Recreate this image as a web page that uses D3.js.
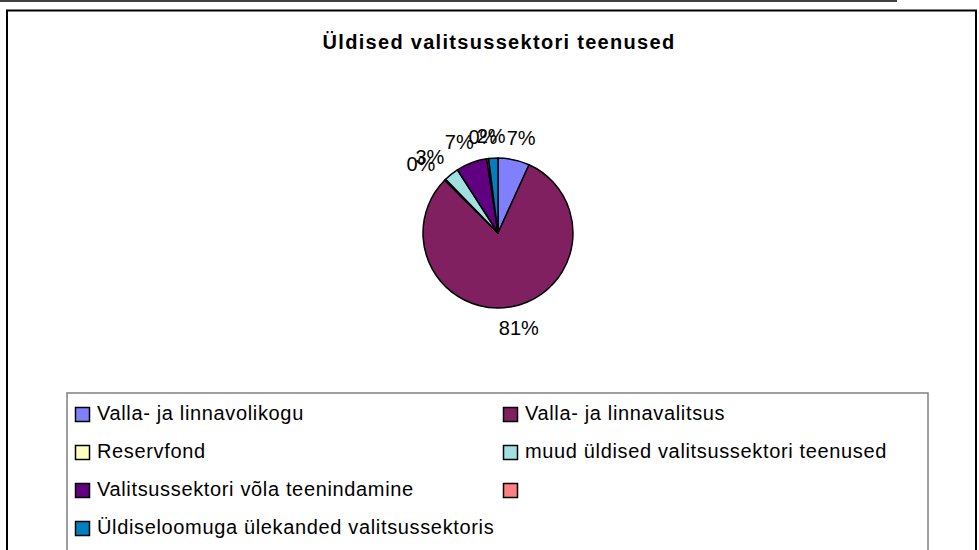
<!DOCTYPE html>
<html>
<head>
<meta charset="utf-8">
<script src="https://cdn.jsdelivr.net/npm/d3@7"></script>
<style>
  body { margin: 0; background: #fff; }
  svg { display: block; font-family: "Liberation Sans", Arial, sans-serif; }
</style>
</head>
<body>
<svg id="chart" width="979" height="550"></svg>
<script>
// slice data, clockwise from 12 o'clock
const categories = [
  "Valla- ja linnavolikogu",
  "Valla- ja linnavalitsus",
  "Reservfond",
  "muud üldised valitsussektori teenused",
  "Valitsussektori võla teenindamine",
  "",
  "Üldiseloomuga ülekanded valitsussektoris"
];
const values = [6.8, 80.6, 0.3, 3.2, 6.7, 0.4, 2.0];
const colors = ["#8080ff", "#802060", "#ffffc0", "#a0e0e0", "#600080", "#ff8080", "#0080c0"];
const title = "Üldised valitsussektori teenused";

const svg = d3.select("#chart");
const cx = 498, cy = 233, r = 75;

// page line + chart frame
svg.append("line").attr("x1", 0).attr("x2", 897).attr("y1", 1).attr("y2", 1)
  .attr("stroke", "#000").attr("stroke-width", 1.5);
svg.append("rect").attr("x", 7).attr("y", 10.5).attr("width", 969).attr("height", 560)
  .attr("fill", "#fff").attr("stroke", "#000").attr("stroke-width", 2);

svg.append("text").attr("x", 499).attr("y", 49).attr("text-anchor", "middle")
  .attr("font-weight", "bold").attr("font-size", 20).attr("letter-spacing", 1.3).text(title);

const total = d3.sum(values);
const pie = d3.pie().sort(null).value(d => d)(values);
const arc = d3.arc().innerRadius(0).outerRadius(r);

const g = svg.append("g").attr("transform", `translate(${cx},${cy})`);
g.selectAll("path").data(pie).join("path")
  .attr("d", arc)
  .attr("fill", (d, i) => colors[i])
  .attr("stroke", "#000").attr("stroke-width", 1.5).attr("stroke-linejoin", "round");

// labels, sitting just outside the rim
const fmt = d3.format(".0%");
g.selectAll("text").data(pie).join("text")
  .attr("font-size", 20)
  .attr("text-anchor", "middle")
  .attr("dominant-baseline", "central")
  .text(d => fmt(d.data / total))
  .each(function (d) {
    const a = (d.startAngle + d.endAngle) / 2;
    const w = this.getComputedTextLength(), h = 16;
    const sx = Math.sin(a), sy = -Math.cos(a);
    const x = sx * (r + 20) + sx * w / 2;
    const y = sy * (r + 14) + sy * h / 2;
    d3.select(this).attr("x", x).attr("y", y);
  });

// legend
const lg = svg.append("g");
lg.append("rect").attr("x", 67).attr("y", 393).attr("width", 861).attr("height", 200)
  .attr("fill", "none").attr("stroke", "#808080").attr("stroke-width", 1.5);

const colX = [75, 503];
const rowY = d3.range(4).map(i => 422 + i * 38);
categories.forEach((c, i) => {
  const x = colX[i % 2], y = rowY[Math.floor(i / 2)];
  lg.append("rect").attr("x", x + 0.5).attr("y", y - 14.5).attr("width", 14).attr("height", 14)
    .attr("fill", colors[i]).attr("stroke", "#000").attr("stroke-width", 1.5);
  lg.append("text").attr("x", x + 22).attr("y", y - 2)
    .attr("font-size", 20).attr("letter-spacing", 0.65).text(c);
});
</script>
</body>
</html>
